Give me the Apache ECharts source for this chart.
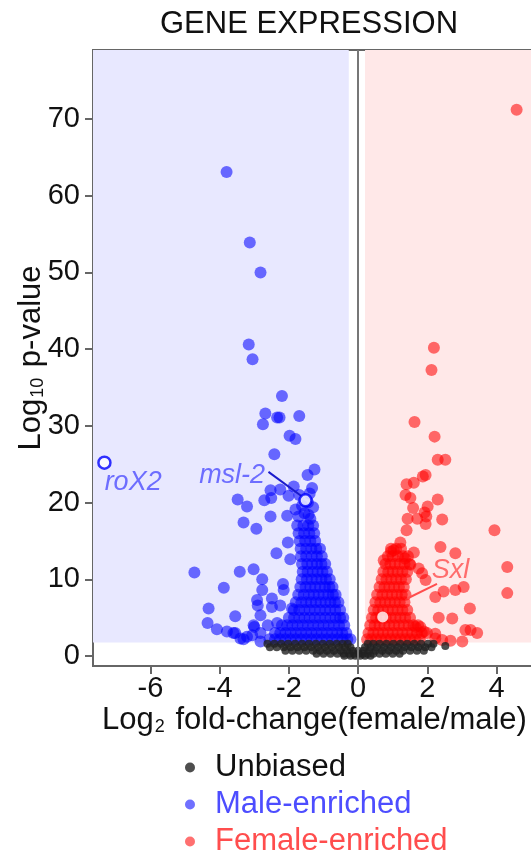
<!DOCTYPE html>
<html>
<head>
<meta charset="utf-8">
<script src="https://cdn.jsdelivr.net/npm/echarts@6/dist/echarts.min.js"></script>
<style>
  html, body { margin: 0; padding: 0; background: #fff; }
  #chart { width: 531px; height: 853px; }
</style>
</head>
<body>
<div id="chart"></div>
<script>
// isolated male-enriched genes [log2FC, -log10 p]
const maleOutliers = [
  [-3.80, 63.1], [-3.13, 53.9], [-2.82, 50.0], [-3.16, 40.6], [-3.05, 38.7], [-2.20, 33.9],
  [-2.68, 31.6], [-2.34, 31.1], [-2.27, 31.1], [-2.75, 30.2], [-1.70, 31.3], [-1.98, 28.7],
  [-1.81, 28.3], [-2.42, 26.3], [-1.26, 24.3], [-1.46, 23.6], [-2.53, 21.6], [-2.25, 21.7],
  [-1.86, 22.1], [-2.01, 20.9], [-1.33, 21.9], [-3.48, 20.4], [-3.21, 19.5], [-2.71, 20.3],
  [-2.51, 20.6], [-1.81, 19.1], [-2.53, 18.2], [-2.05, 18.3], [-1.43, 18.4], [-3.31, 17.4],
  [-2.94, 16.6], [-2.36, 13.4], [-2.03, 14.8], [-1.96, 12.6], [-4.73, 10.9], [-3.88, 8.9],
  [-3.42, 11.0], [-3.02, 11.3], [-2.77, 10.0], [-2.77, 8.6], [-2.17, 9.4], [-4.32, 6.2],
  [-4.35, 4.3], [-3.55, 5.2], [-4.08, 3.5], [-3.79, 3.2], [-3.60, 3.0], [-2.92, 7.3],
  [-2.90, 6.6], [-2.82, 5.3], [-2.49, 7.5], [-2.49, 6.4], [-2.25, 6.6], [-1.91, 6.2],
  [-2.15, 8.6], [-3.40, 2.3], [-3.21, 2.5], [-3.06, 2.7], [-3.00, 3.8], [-2.82, 1.9],
  [-2.61, 4.0], [-2.34, 4.3], [-3.31, 2.2], [-3.55, 3.0], [-2.82, 3.0], [-3.02, 4.0],
  [-1.72, 18.2], [-1.55, 18.6], [-1.38, 17.9], [-1.62, 19.6], [-1.45, 20.0], [-1.30, 19.4],
  [-1.70, 21.0], [-1.40, 21.2]
];

// dense male-enriched cloud, one row per -log10 p level: [y, [x...]]
const maleCloud = [
  [17.0, [-1.76, -1.58, -1.44, -1.30]],
  [16.0, [-1.72, -1.56, -1.41, -1.27]],
  [15.0, [-1.69, -1.53, -1.38, -1.24]],
  [14.0, [-1.66, -1.50, -1.35, -1.21, -1.10]],
  [13.0, [-1.65, -1.50, -1.34, -1.19, -1.05]],
  [12.0, [-1.62, -1.47, -1.33, -1.19, -1.06, -0.95]],
  [11.0, [-1.60, -1.46, -1.31, -1.17, -1.03, -0.90]],
  [10.0, [-1.63, -1.48, -1.34, -1.20, -1.06, -0.93, -0.82]],
  [9.0, [-1.67, -1.52, -1.38, -1.24, -1.10, -0.96, -0.83, -0.74]],
  [8.0, [-1.73, -1.57, -1.42, -1.28, -1.14, -1.00, -0.86, -0.73, -0.65]],
  [7.0, [-1.80, -1.64, -1.50, -1.36, -1.22, -1.08, -0.94, -0.80, -0.67, -0.57]],
  [6.0, [-1.86, -1.70, -1.55, -1.40, -1.25, -1.10, -0.95, -0.81, -0.66, -0.52]],
  [5.0, [-2.00, -1.85, -1.70, -1.55, -1.40, -1.25, -1.10, -0.95, -0.80, -0.65, -0.52, -0.43]],
  [4.0, [-2.20, -2.05, -1.90, -1.75, -1.60, -1.45, -1.30, -1.15, -1.00, -0.85, -0.70, -0.55, -0.40]],
  [3.0, [-2.40, -2.25, -2.10, -1.95, -1.80, -1.65, -1.50, -1.35, -1.20, -1.05, -0.90, -0.75, -0.60, -0.46, -0.34]],
  [2.2, [-2.56, -2.40, -2.25, -2.10, -1.95, -1.80, -1.65, -1.50, -1.35, -1.20, -1.05, -0.90, -0.75, -0.60, -0.45, -0.31, -0.22]]
];

// isolated female-enriched genes
const femaleOutliers = [
  [4.58, 71.2], [2.19, 40.2], [2.12, 37.3], [1.63, 30.5], [2.21, 28.6], [2.30, 25.6],
  [2.52, 25.6], [1.95, 23.6], [1.87, 23.4], [1.61, 22.6], [1.40, 22.4], [1.37, 21.0],
  [1.51, 20.6], [2.30, 20.4], [2.01, 19.5], [1.59, 19.3], [1.92, 18.7], [1.43, 17.9],
  [1.71, 17.9], [1.97, 18.2], [1.95, 17.2], [2.43, 17.8], [1.40, 16.4], [3.94, 16.4],
  [1.22, 14.8], [1.03, 13.8], [0.95, 13.6], [1.61, 13.5], [2.38, 14.2], [2.81, 13.4],
  [4.31, 11.6], [4.31, 8.2], [0.74, 12.5], [1.35, 12.7], [1.51, 11.9], [1.75, 11.4],
  [1.85, 10.8], [1.95, 9.9], [3.05, 9.0], [2.81, 8.6], [2.47, 8.4], [2.23, 7.7],
  [3.23, 6.2], [2.33, 5.0], [2.72, 4.9], [3.10, 3.4], [3.25, 3.4], [3.44, 3.0],
  [2.23, 2.9], [3.01, 1.9], [2.67, 2.0], [1.80, 3.8], [1.90, 3.2], [2.23, 2.3],
  [2.43, 2.1], [1.66, 3.8], [1.99, 3.0]
];

const femaleCloud = [
  [14.0, [0.95, 1.10, 1.24]],
  [13.0, [0.86, 1.00, 1.15, 1.30, 1.44]],
  [12.0, [0.79, 0.93, 1.06, 1.20, 1.34, 1.49]],
  [11.0, [0.73, 0.87, 1.00, 1.14, 1.28, 1.42]],
  [10.0, [0.68, 0.82, 0.96, 1.10, 1.24, 1.38]],
  [9.0, [0.62, 0.76, 0.90, 1.04, 1.18, 1.32]],
  [8.0, [0.55, 0.70, 0.84, 0.98, 1.12, 1.26, 1.37]],
  [7.0, [0.50, 0.64, 0.78, 0.92, 1.06, 1.20, 1.34]],
  [6.0, [0.45, 0.58, 0.72, 0.86, 1.00, 1.14, 1.28, 1.42]],
  [5.0, [0.40, 0.52, 0.66, 0.80, 0.94, 1.08, 1.22, 1.36, 1.50]],
  [4.0, [0.35, 0.48, 0.62, 0.76, 0.90, 1.04, 1.18, 1.32, 1.46, 1.60, 1.73]],
  [3.0, [0.30, 0.44, 0.58, 0.72, 0.86, 1.00, 1.14, 1.28, 1.42, 1.56, 1.70, 1.84]],
  [2.2, [0.26, 0.38, 0.52, 0.66, 0.80, 0.94, 1.08, 1.22, 1.36, 1.50, 1.64, 1.78]]
];

const unbiasedCloud = [
  [1.6, [-2.62, -2.42, -2.22, -2.02, -1.82, -1.62, -1.42, -1.22, -1.02, -0.82, -0.62, -0.45, -0.30,
         0.28, 0.44, 0.62, 0.82, 1.02, 1.22, 1.42, 1.62, 1.82, 2.02, 2.18]],
  [1.15, [-2.55, -2.35, -2.15, -1.95, -1.75, -1.55, -1.35, -1.15, -0.95, -0.75, -0.55, -0.38, -0.22,
          0.20, 0.36, 0.54, 0.74, 0.94, 1.14, 1.34, 1.54, 1.74, 1.94, 2.12]],
  [0.7, [-2.10, -1.90, -1.70, -1.50, -1.30, -1.10, -0.90, -0.70, -0.50, -0.32, -0.16, 0.0,
         0.16, 0.32, 0.50, 0.70, 0.90, 1.10, 1.30, 1.50, 1.70, 1.90]],
  [0.3, [-1.20, -1.00, -0.80, -0.60, -0.42, -0.26, -0.12, 0.02, 0.14, 0.28, 0.44, 0.62, 0.80, 1.00, 1.20]],
  [0.05, [-0.40, -0.22, -0.08, 0.06, 0.20, 0.36]]
];
const unbiasedOutliers = [[2.52, 1.3]];

// highlighted genes
const roX2 = [-7.33, 25.2];
const msl2 = [-1.52, 20.3];
const sxl = [0.71, 5.1];

const xTicks = [-6, -4, -2, 0, 2, 4];
const yTicks = [0, 10, 20, 30, 40, 50, 60, 70];

const X_MIN = -7.66, X_MAX = 5.14, Y_MIN = -1.3, Y_MAX = 79;

const rowsToPoints = (rows) => rows.flatMap(([y, xs]) => xs.map((x) => [x, y]));

const BLUE = "rgba(0,0,255,0.7)";
const RED = "rgba(255,0,0,0.7)";
const FONT = "Liberation Sans, Arial, sans-serif";
const subStyle = { sub: { fontSize: 18, verticalAlign: "bottom", padding: [10, 2, 0, 1] } };

const chart = echarts.init(document.getElementById("chart"));

const option = {
  animation: false,
  textStyle: { fontFamily: FONT },
  title: {
    text: "GENE EXPRESSION",
    left: 304,
    top: 4,
    textAlign: "center",
    textStyle: { fontSize: 31, fontWeight: "normal", color: "#111", fontFamily: FONT },
  },
  grid: {
    left: 93,
    top: 50,
    right: -5,
    bottom: 187,
    show: true,
    borderColor: "#666",
    borderWidth: 2,
    containLabel: false,
    outerBoundsMode: "none",
  },
  legend: {
    orient: "vertical",
    left: 185,
    top: 752,
    height: 200,
    padding: 0,
    itemWidth: 10,
    itemHeight: 10,
    itemGap: 6,
    selectedMode: false,
    textStyle: { fontSize: 31, lineHeight: 28, padding: [0, 0, 0, 15], fontFamily: FONT },
    data: [
      { name: "Unbiased", icon: "circle", textStyle: { color: "#111" } },
      { name: "Male-enriched", icon: "circle", textStyle: { color: "#4d4dff" } },
      { name: "Female-enriched", icon: "circle", textStyle: { color: "#ff4d4d" } },
    ],
  },
  xAxis: {
    type: "value",
    min: X_MIN,
    max: X_MAX,
    splitLine: { show: false },
    axisLine: { onZero: false, lineStyle: { color: "#666", width: 2 } },
    axisTick: { length: 8, lineStyle: { color: "#666", width: 2 }, customValues: xTicks },
    axisLabel: { fontSize: 29, color: "#111", margin: 8, customValues: xTicks },
    name: "Log{sub|2} fold-change(female/male)",
    nameLocation: "middle",
    nameGap: 39,
    nameMoveOverlap: false,
    nameTextStyle: { fontSize: 31, color: "#111", rich: subStyle },
  },
  yAxis: {
    type: "value",
    min: Y_MIN,
    max: Y_MAX,
    splitLine: { show: false },
    axisLine: { onZero: false, lineStyle: { color: "#666", width: 2 } },
    axisTick: { length: 8, lineStyle: { color: "#666", width: 2 }, customValues: yTicks },
    axisLabel: { fontSize: 29, color: "#111", margin: 13, customValues: yTicks },
    name: "Log{sub|10} p-value",
    nameLocation: "middle",
    nameGap: 46,
    nameMoveOverlap: false,
    nameTextStyle: { fontSize: 31, color: "#111", rich: subStyle },
  },
  series: [
    {
      // background shading and zero line
      type: "scatter",
      z: 1,
      silent: true,
      data: [],
      markArea: {
        silent: true,
        data: [
          [{ coord: [X_MIN, 1.75], itemStyle: { color: "#e8e8ff" } }, { coord: [-0.27, Y_MAX] }],
          [{ coord: [0.2, 1.75], itemStyle: { color: "#ffe8e8" } }, { coord: [X_MAX, Y_MAX] }],
        ],
      },
      markLine: {
        silent: true,
        symbol: "none",
        label: { show: false },
        lineStyle: { color: "#777", width: 2, type: "solid" },
        data: [{ xAxis: 0 }],
      },
    },
    {
      name: "Male-enriched",
      type: "scatter",
      symbolSize: 12,
      itemStyle: { color: BLUE },
      data: maleOutliers.concat(rowsToPoints(maleCloud)),
    },
    {
      name: "Female-enriched",
      type: "scatter",
      symbolSize: 12,
      itemStyle: { color: RED },
      data: femaleOutliers.concat(rowsToPoints(femaleCloud)),
    },
    {
      name: "Unbiased",
      type: "scatter",
      symbolSize: 8,
      itemStyle: { color: "#222" },
      data: rowsToPoints(unbiasedCloud).concat(unbiasedOutliers),
    },
    {
      type: "scatter",
      z: 5,
      symbolSize: 12,
      data: [
        { value: roX2, itemStyle: { color: "#fff", borderColor: "#0000ff", borderWidth: 2.5 } },
        { value: msl2, itemStyle: { color: "#fff", borderColor: "#0000ff", borderWidth: 2.5 } },
        { value: sxl, symbolSize: 11, itemStyle: { color: "#fff" } },
      ],
    },
    {
      // gene name labels with leader lines
      type: "scatter",
      z: 6,
      symbolSize: 0,
      silent: true,
      label: {
        show: true,
        position: "inside",
        formatter: "{b}",
        fontSize: 27,
        fontStyle: "italic",
        fontFamily: FONT,
      },
      data: [
        { name: "roX2", value: [-6.5, 22.6], label: { color: "#4d4dff" } },
        { name: "msl-2", value: [-3.64, 23.6], label: { color: "#4d4dff" } },
        { name: "Sxl", value: [2.67, 11.2], label: { color: "#ff4d4d" } },
      ],
      markLine: {
        silent: true,
        symbol: "none",
        label: { show: false },
        data: [
          [{ coord: [-2.59, 24.0], lineStyle: { color: "#1a1acc", width: 2, type: "solid" } }, { coord: [-1.62, 20.8] }],
          [{ coord: [2.28, 9.4], lineStyle: { color: "#ff4d4d", width: 2, type: "solid" } }, { coord: [1.42, 7.5] }],
        ],
      },
    },
  ],
};

chart.setOption(option);
</script>
</body>
</html>
